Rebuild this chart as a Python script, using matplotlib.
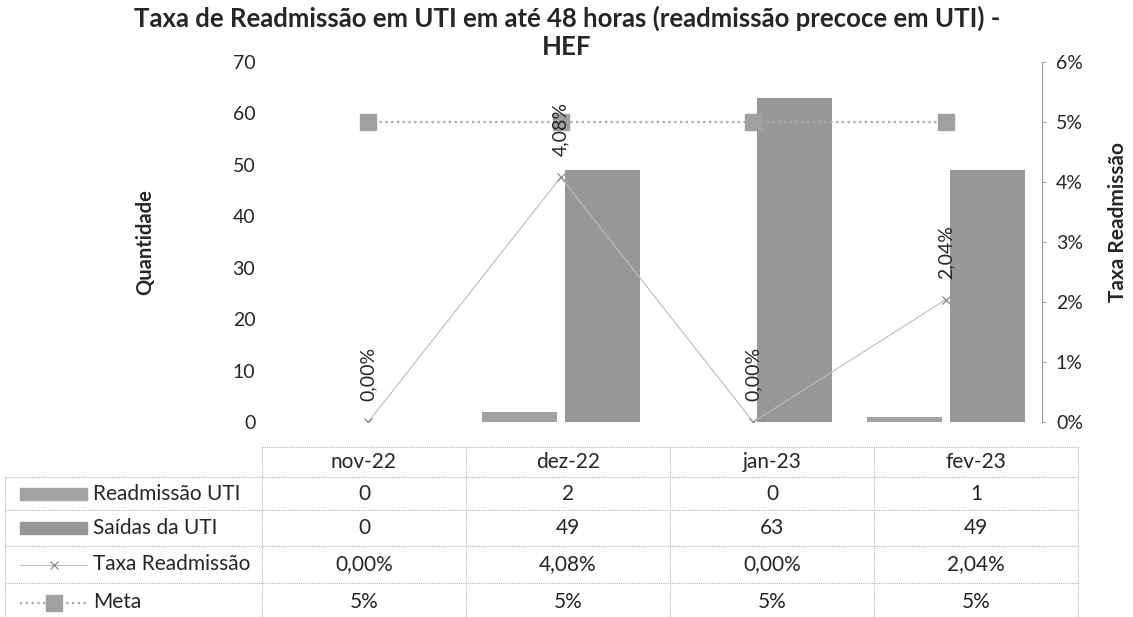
import matplotlib
matplotlib.use("Agg")
import matplotlib.pyplot as plt
from matplotlib.lines import Line2D
from matplotlib.patches import Rectangle
import numpy as np

# ---- data ----
categories = ["nov-22", "dez-22", "jan-23", "fev-23"]
readmissao = [0, 2, 0, 1]
saidas = [0, 49, 63, 49]
taxa = [0.0, 0.0408, 0.0, 0.0204]
meta = [0.05, 0.05, 0.05, 0.05]
left_ticks = [0, 10, 20, 30, 40, 50, 60, 70]
right_ticks = [0, 0.01, 0.02, 0.03, 0.04, 0.05, 0.06]
series_names = ["Readmissão UTI", "Saídas da UTI", "Taxa Readmissão", "Meta"]

FONT = "Lato"
plt.rcParams["font.family"] = [FONT, "DejaVu Sans"]

W, H = 1133, 617
fig = plt.figure(figsize=(W / 100, H / 100), dpi=100)

def fx(px):
    return px / W

def fy(py):
    return 1 - py / H

BAR_C1 = "#a2a2a2"
BAR_C2 = "#979797"
TXT = "#262626"

# ---- plot area ----
pl, pr, pt, pb = 272, 1042, 62, 422
ax = fig.add_axes([fx(pl), fy(pb), fx(pr - pl), (pb - pt) / H])
x = np.arange(len(categories))
bw = 0.39
off = 0.215
ax.bar(x - off, readmissao, bw, color=BAR_C1, zorder=2)
ax.bar(x + off, saidas, bw, color=BAR_C2, zorder=2)
ax.set_xlim(-0.5, len(categories) - 0.5)
ax.set_ylim(0, 70)
ax.set_yticks(left_ticks)
ax.set_yticklabels([str(t) for t in left_ticks], fontsize=14, color=TXT)
ax.tick_params(axis="y", length=0, pad=12)
ax.set_xticks([])
for s in ax.spines.values():
    s.set_visible(False)
ax.set_ylabel("Quantidade", fontsize=14.5, fontweight="bold", color=TXT, labelpad=56)

ax2 = ax.twinx()
ax2.set_ylim(0, 0.06)
ax2.set_yticks(right_ticks)
ax2.set_yticklabels([f"{t:.0%}" for t in right_ticks], fontsize=14, color=TXT)
for k, s in ax2.spines.items():
    s.set_visible(k == "right")
ax2.spines["right"].set_color("#9a9a9a")
ax2.spines["right"].set_linestyle((0, (1, 1)))
ax2.spines["right"].set_linewidth(0.8)
ax2.tick_params(axis="y", direction="out", length=3, width=0.6, color="#9a9a9a", pad=7)
ax2.set_ylabel("Taxa Readmissão", fontsize=15, fontweight="bold", color=TXT, labelpad=18)
ax2.yaxis.label.set_y((pb - 222) / (pb - pt))

ax2.plot(x, meta, color="#a8a8a8", lw=1.6, ls=(0, (1, 1.6)), marker="s", ms=11.5,
         mfc="#a0a0a0", mec="#a0a0a0", zorder=3)
ax2.plot(x, taxa, color="#bcbcbc", lw=0.8, marker="x", ms=6, mec="#8c8c8c", mew=0.9, zorder=4)
for xi, v in zip(x, taxa):
    ax2.annotate(f"{v * 100:.2f}%".replace(".", ","), (xi, v), xytext=(0, 15),
                 textcoords="offset points", rotation=90, ha="center", va="bottom",
                 fontsize=14, color=TXT, zorder=5)

# ---- title ----
fig.text(fx(567), fy(18), "Taxa de Readmissão em UTI em até 48 horas (readmissão precoce em UTI) -",
         ha="center", va="center", fontsize=18.5, fontweight="bold", color=TXT)
fig.text(fx(567), fy(47), "HEF", ha="center", va="center", fontsize=18.5, fontweight="bold", color=TXT)

# ---- data table ----
tl, tr = 262, 1078
lc = 5
row_lines = [447, 477, 510, 546, 583, 622]
ncol = len(categories)
col_edges = [tl + (tr - tl) * i / ncol for i in range(ncol + 1)]
GRID = dict(color="#b4b4b4", lw=0.8, ls=(0, (1, 1)))

def hline(y, x0, x1):
    fig.add_artist(Line2D([fx(x0), fx(x1)], [fy(y), fy(y)], **GRID))

def vline(xp, y0, y1):
    fig.add_artist(Line2D([fx(xp), fx(xp)], [fy(y0), fy(y1)], **GRID))

hline(row_lines[0], tl, tr)
for y in row_lines[1:-1]:
    hline(y, lc, tr)
vline(lc, row_lines[1], H)
for xe in col_edges:
    vline(xe, row_lines[0], H)

centers_y = [(row_lines[i] + row_lines[i + 1]) / 2 for i in range(len(row_lines) - 1)]
col_c = [(col_edges[i] + col_edges[i + 1]) / 2 for i in range(ncol)]
for c, name in zip(col_c, categories):
    fig.text(fx(c), fy(centers_y[0]), name, ha="center", va="center", fontsize=15, color=TXT)

rows = [
    [str(v) for v in readmissao],
    [str(v) for v in saidas],
    [f"{v * 100:.2f}%".replace(".", ",") for v in taxa],
    [f"{v:.0%}" for v in meta],
]
for r, (name, vals) in enumerate(zip(series_names, rows)):
    yc = centers_y[r + 1]
    fig.text(fx(93), fy(yc), name, ha="left", va="center", fontsize=15, color=TXT)
    for c, v in zip(col_c, vals):
        fig.text(fx(c), fy(yc), v, ha="center", va="center", fontsize=15, color=TXT)

# legend keys
k0, k1 = 20, 87
for r, colr in enumerate([BAR_C1, BAR_C2]):
    yc = centers_y[r + 1]
    fig.add_artist(Rectangle((fx(k0), fy(yc + 6)), fx(k1 - k0), 12 / H, color=colr,
                             transform=fig.transFigure))
yc = centers_y[3]
fig.add_artist(Line2D([fx(k0), fx(k1)], [fy(yc), fy(yc)], color="#bcbcbc", lw=0.8))
fig.add_artist(Line2D([fx((k0 + k1) / 2)], [fy(yc)], marker="x", ms=6, mec="#8c8c8c", mew=0.9, ls="none"))
yc = centers_y[4]
fig.add_artist(Line2D([fx(k0), fx(k1)], [fy(yc), fy(yc)], color="#a8a8a8", lw=1.6, ls=(0, (1, 1.6))))
fig.add_artist(Line2D([fx((k0 + k1) / 2)], [fy(yc)], marker="s", ms=11, mfc="#a0a0a0",
                      mec="#a0a0a0", ls="none"))

fig.savefig("out.png", dpi=100, facecolor="white")
